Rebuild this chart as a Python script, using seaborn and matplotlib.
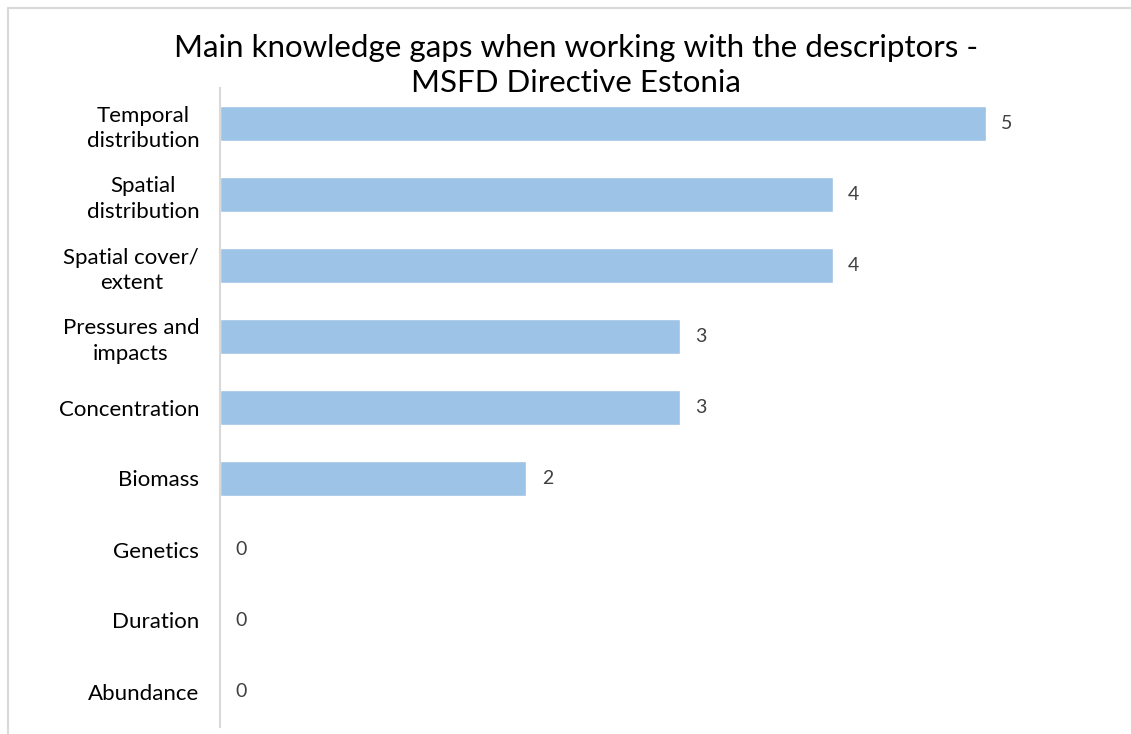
import matplotlib
matplotlib.use("Agg")
import matplotlib.pyplot as plt
import seaborn as sns
import pandas as pd
from matplotlib.lines import Line2D

categories = ["Temporal\ndistribution", "Spatial\ndistribution", "Spatial cover/\nextent",
              "Pressures and\nimpacts", "Concentration", "Biomass", "Genetics",
              "Duration", "Abundance"]
counts = [5, 4, 4, 3, 3, 2, 0, 0, 0]

df = pd.DataFrame({"Category": categories, "Count": counts})

sns.set_theme(style="white")
plt.rcParams["font.family"] = ["Lato", "DejaVu Sans"]

fig = plt.figure(figsize=(11.31, 7.34), dpi=100)
ax = fig.add_axes([220 / 1131, 1 - 727 / 734, (1120 - 220) / 1131, (727 - 88) / 734])

sns.barplot(data=df, y="Category", x="Count", orient="h", color="#9DC3E6",
            saturation=1, width=0.49, ax=ax)

ax.set_xlim(0, (1120 - 220) / 153.2)
ax.set_ylim(8.5, -0.5)
ax.set_xlabel("")
ax.set_ylabel("")
ax.set_xticks([])
for s in ["top", "right", "bottom"]:
    ax.spines[s].set_visible(False)
ax.spines["left"].set_color("#D9D9D9")
ax.spines["left"].set_linewidth(1.5)
ax.tick_params(axis="y", length=0, pad=15, labelsize=16, labelcolor="black")
for lbl in ax.get_yticklabels():
    lbl.set_multialignment("center")
    lbl.set_linespacing(1.35)

for i, v in enumerate(counts):
    ax.text(v + 0.1, i, str(v), va="center", ha="left", fontsize=14, color="#404040")

fig.text(576 / 1131, 1 - 65.5 / 734,
         "Main knowledge gaps when working with the descriptors -\nMSFD Directive Estonia",
         ha="center", va="center", fontsize=22.5, color="black", linespacing=1.33)

# light frame, only top and left edges visible
fig.add_artist(Line2D([8 / 1131, 1], [1 - 8 / 734, 1 - 8 / 734], transform=fig.transFigure,
                      color="#D9D9D9", linewidth=1.5))
fig.add_artist(Line2D([8 / 1131, 8 / 1131], [0, 1 - 8 / 734], transform=fig.transFigure,
                      color="#D9D9D9", linewidth=1.5))

fig.savefig("out.png", dpi=100)
